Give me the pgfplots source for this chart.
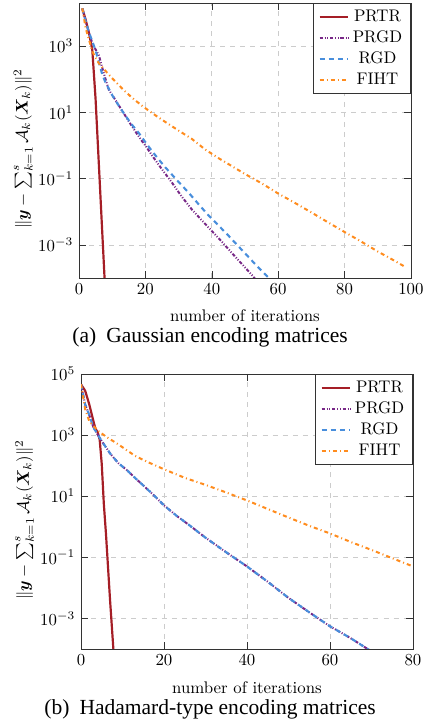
\documentclass[border=0pt]{standalone}
\usepackage{pgfplots}
\pgfplotsset{compat=1.18}
\usepackage{amsmath,bm}
\usepackage{fontspec}
\newfontfamily\capfont{Liberation Serif}

\definecolor{cPRTR}{RGB}{165,30,38}
\definecolor{cPRGD}{RGB}{120,40,135}
\definecolor{cRGD}{RGB}{72,142,220}
\definecolor{cFIHT}{RGB}{255,140,30}

\tikzset{
  sPRTR/.style={draw=cPRTR, line width=1.3pt},
  sPRGD/.style={draw=cPRGD, line width=1.2pt, dash pattern=on 2pt off 1pt on 0.6pt off 1pt on 0.6pt off 1pt},
  sRGD/.style={draw=cRGD, line width=1.25pt, dash pattern=on 3pt off 2.4pt},
  sFIHT/.style={draw=cFIHT, line width=1.2pt, dash pattern=on 2.4pt off 1.8pt on 0.6pt off 1.8pt},
}

\newcommand{\reslabel}{$\|\bm{y}-\sum_{k=1}^{s}\mathcal{A}_k(\bm{X}_k)\|^2$}

\begin{document}
\begin{tikzpicture}
% (a) Gaussian encoding matrices
\begin{semilogyaxis}[
  name=ga, at={(47.0pt,-1.8pt)}, anchor=north west,
  width=197.5pt, height=163.6pt, scale only axis,
  xmin=0, xmax=100, ymin=1e-4, ymax=2e4,
  xtick={0,20,40,60,80,100},
  ytick={1e-3,1e-1,1e1,1e3},
  yminorticks=false,
  grid=major, grid style={dashed, gray!40, line width=0.4pt},
  axis line style={black!80}, tick style={black!80},
  ylabel={\reslabel},
  every axis y label/.style={at={(axis description cs:-0.168,0.47)}, anchor=center, rotate=90},
  legend style={at={(1,1)}, anchor=north east, draw=black!80},
  legend cell align=center,
  ]
\addplot[sPRTR] coordinates {(1,13800) (2,6310) (3,2510) (4,794) (5,25.1) (6,0.251) (7,2.51e-3) (8,2.51e-5)};
\addlegendentry{PRTR}
\addplot[sPRGD] coordinates {(1,13800) (2,5620) (3,2510) (4,1260) (5,794) (6,525) (7,224) (8,100) (9,47.9)
  (11,23.4) (13,11.2) (15,5.37) (17,2.63) (19,1.35) (20,1.0) (22,0.501) (25,0.191) (28,0.0759)
  (31,0.0282) (34,0.0117) (37,5.5e-3) (40,2.63e-3) (43,1.26e-3) (46,5.75e-4) (49,2.69e-4)
  (52,1.26e-4) (53,9.55e-5)};
\addlegendentry{PRGD}
\addplot[sRGD] coordinates {(1,13800) (2,5620) (3,2630) (4,1410) (5,741) (6,316) (7,141) (8,79.4)
  (10,33.1) (12,15.8) (14,7.94) (16,4.17) (18,2.40) (20,1.26) (22,0.676) (24,0.380) (26,0.219)
  (28,0.132) (30,0.0794) (33,0.0380) (36,0.0170) (39,7.76e-3) (42,3.89e-3) (45,1.91e-3)
  (48,9.12e-4) (51,4.37e-4) (54,2.09e-4) (57,1.05e-4) (58,8.32e-5)};
\addlegendentry{RGD}
\addplot[sFIHT] coordinates {(1,13800) (2,3550) (3,1580) (4,708) (5,447) (6,302) (8,178) (10,107)
  (13,52.5) (16,27.5) (19,15.8) (22,9.55) (26,5.13) (30,2.82) (34,1.58) (38,0.759) (42,0.417)
  (46,0.240) (50,0.138) (55,0.0724) (60,0.0355) (65,0.0186) (70,9.55e-3) (75,4.79e-3)
  (80,2.45e-3) (85,1.26e-3) (90,6.31e-4) (94,3.80e-4) (98,2.24e-4)};
\addlegendentry{FIHT}
\end{semilogyaxis}
\node[anchor=base] at (145.75pt,-191.4pt) {number of iterations};
\node[font=\capfont\fontsize{12.8}{15}\selectfont, anchor=base] at (125pt,-203.6pt)
  {(a)\hspace{6pt}Gaussian encoding matrices};

% (b) Hadamard-type encoding matrices
\begin{semilogyaxis}[
  name=gb, at={(48.2pt,-222.5pt)}, anchor=north west,
  width=197.5pt, height=163.6pt, scale only axis,
  xmin=0, xmax=80, ymin=1e-4, ymax=1e5,
  xtick={0,20,40,60,80},
  ytick={1e-3,1e-1,1e1,1e3,1e5},
  yminorticks=false,
  grid=major, grid style={dashed, gray!40, line width=0.4pt},
  axis line style={black!80}, tick style={black!80},
  ylabel={\reslabel},
  every axis y label/.style={at={(axis description cs:-0.17,0.47)}, anchor=center, rotate=90},
  legend style={at={(1,1)}, anchor=north east, draw=black!80},
  legend cell align=center,
  ]
\addplot[sPRTR] coordinates {(0,45700) (1,28200) (2,10000) (3,2820) (3.5,1580) (4,1260) (4.5,708)
  (5,112) (5.5,5.62) (6,0.631) (7,3.98e-3) (8,3.98e-5)};
\addlegendentry{PRTR}
\addplot[sPRGD] coordinates {(0,45700) (1,10000) (2,4470) (3,1780) (4,1050) (5,631) (7,251) (9,120)
  (11,72.4) (13,39.8) (15,22.4) (17,12.6) (20,5.01) (23,2.29) (26,1.15) (30,0.437) (35,0.145)
  (40,0.0501) (45,0.0158) (50,4.68e-3) (55,1.58e-3) (60,5.5e-4) (65,2.24e-4) (69.5,9.12e-5)};
\addlegendentry{PRGD}
\addplot[sRGD] coordinates {(0,45700) (1,10000) (2,4470) (3,1780) (4,1050) (5,631) (7,251) (9,120)
  (11,72.4) (13,39.8) (15,22.4) (17,12.6) (20,5.01) (23,2.29) (26,1.15) (30,0.437) (35,0.145)
  (40,0.0501) (45,0.0158) (50,4.68e-3) (55,1.58e-3) (60,5.5e-4) (65,2.24e-4) (69.5,9.12e-5)};
\addlegendentry{RGD}
\addplot[sFIHT] coordinates {(0,45700) (1,7080) (2,2820) (3,2000) (4,1410) (6,891) (8,603) (10,398)
  (13,209) (16,132) (20,75.9) (25,39.8) (30,23.4) (35,13.2) (40,7.24) (45,3.80) (50,2.0)
  (55,1.07) (60,0.603) (65,0.316) (70,0.174) (75,0.0933) (80,0.0501)};
\addlegendentry{FIHT}
\end{semilogyaxis}
\node[anchor=base] at (146.95pt,-412.5pt) {number of iterations};
\node[font=\capfont\fontsize{12.8}{15}\selectfont, anchor=base] at (125pt,-425.0pt)
  {(b)\hspace{6pt}Hadamard-type encoding matrices};

\pgfresetboundingbox
\useasboundingbox (0,0) rectangle (251.1pt,-430.2pt);
\end{tikzpicture}
\end{document}
